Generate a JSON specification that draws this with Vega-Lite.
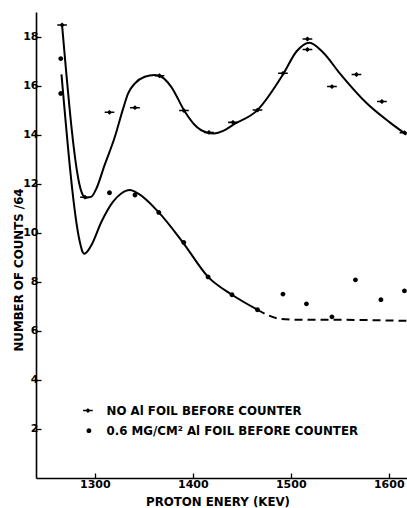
{
  "$schema": "https://vega.github.io/schema/vega-lite/v6.json",
  "width": 371,
  "height": 466,
  "autosize": {"type": "none"},
  "padding": {"left": 36, "top": 12, "right": 0, "bottom": 30},
  "background": "white",
  "config": {
    "view": {"stroke": null},
    "font": "DejaVu Sans",
    "axis": {
      "grid": false,
      "domainColor": "black",
      "domainWidth": 1.6,
      "tickColor": "black",
      "tickWidth": 1.3,
      "tickSize": -5,
      "labelFont": "DejaVu Sans",
      "labelFontWeight": "bold",
      "labelFontSize": 11,
      "labelColor": "black",
      "titleFont": "DejaVu Sans",
      "titleFontWeight": "bold",
      "titleFontSize": 11.8,
      "titleColor": "black"
    }
  },
  "datasets": {
    "curveNo": [
      {"E": 1266.6, "N": 18.47}, {"E": 1286.4, "N": 11.67}, {"E": 1289, "N": 11.47}, {"E": 1291.5, "N": 11.43},
      {"E": 1296.6, "N": 11.47}, {"E": 1301.7, "N": 11.81}, {"E": 1310, "N": 12.76}, {"E": 1320, "N": 13.85},
      {"E": 1329, "N": 15.07}, {"E": 1334, "N": 15.68}, {"E": 1341, "N": 16.09}, {"E": 1351, "N": 16.36},
      {"E": 1361, "N": 16.43}, {"E": 1368, "N": 16.36}, {"E": 1378, "N": 15.95}, {"E": 1392, "N": 14.93},
      {"E": 1402, "N": 14.39}, {"E": 1414, "N": 14.09}, {"E": 1422, "N": 14.05}, {"E": 1431, "N": 14.15},
      {"E": 1441, "N": 14.4}, {"E": 1466, "N": 15.0}, {"E": 1492, "N": 16.45}, {"E": 1506, "N": 17.4},
      {"E": 1519, "N": 17.75}, {"E": 1533, "N": 17.35}, {"E": 1550, "N": 16.5}, {"E": 1577, "N": 15.3},
      {"E": 1601, "N": 14.5}, {"E": 1618, "N": 14.0}
    ],
    "curveFoil": [
      {"E": 1266, "N": 16.46}, {"E": 1284.7, "N": 9.63}, {"E": 1287.5, "N": 9.22}, {"E": 1289.5, "N": 9.14},
      {"E": 1292, "N": 9.22}, {"E": 1296.6, "N": 9.5}, {"E": 1306.8, "N": 10.45}, {"E": 1318.7, "N": 11.27},
      {"E": 1327, "N": 11.6}, {"E": 1335.7, "N": 11.74}, {"E": 1344, "N": 11.6}, {"E": 1364.6, "N": 10.86},
      {"E": 1390, "N": 9.6}, {"E": 1415.6, "N": 8.2}, {"E": 1440, "N": 7.47}, {"E": 1466, "N": 6.86}
    ],
    "curveFoilDash": [
      {"E": 1466, "N": 6.86}, {"E": 1476, "N": 6.65}, {"E": 1489, "N": 6.49}, {"E": 1509, "N": 6.45},
      {"E": 1543, "N": 6.45}, {"E": 1618, "N": 6.41}
    ],
    "points": [
      {"E": 1266.6, "N": 18.47, "series": "no"}, {"E": 1290, "N": 11.45, "series": "no"},
      {"E": 1315, "N": 14.91, "series": "no"}, {"E": 1341, "N": 15.1, "series": "no"},
      {"E": 1366, "N": 16.4, "series": "no"}, {"E": 1391, "N": 14.98, "series": "no"},
      {"E": 1416.5, "N": 14.09, "series": "no"}, {"E": 1441, "N": 14.5, "series": "no"},
      {"E": 1466, "N": 15.0, "series": "no"}, {"E": 1492, "N": 16.5, "series": "no"},
      {"E": 1517, "N": 17.9, "series": "no"}, {"E": 1517, "N": 17.47, "series": "no"},
      {"E": 1542, "N": 15.96, "series": "no"}, {"E": 1567, "N": 16.45, "series": "no"},
      {"E": 1593, "N": 15.35, "series": "no"}, {"E": 1616, "N": 14.08, "series": "no"},
      {"E": 1265.3, "N": 17.1, "series": "foil"}, {"E": 1265.3, "N": 15.68, "series": "foil"},
      {"E": 1315, "N": 11.63, "series": "foil"}, {"E": 1341, "N": 11.54, "series": "foil"},
      {"E": 1365.3, "N": 10.83, "series": "foil"}, {"E": 1390.8, "N": 9.6, "series": "foil"},
      {"E": 1415.6, "N": 8.2, "series": "foil"}, {"E": 1440, "N": 7.47, "series": "foil"},
      {"E": 1466, "N": 6.86, "series": "foil"}, {"E": 1492, "N": 7.5, "series": "foil"},
      {"E": 1516, "N": 7.1, "series": "foil"}, {"E": 1542, "N": 6.57, "series": "foil"},
      {"E": 1566, "N": 8.08, "series": "foil"}, {"E": 1592, "N": 7.27, "series": "foil"},
      {"E": 1616, "N": 7.63, "series": "foil"}
    ],
    "legend": [
      {"E": 1293, "N": 2.75, "TE": 1312, "series": "no", "label": "NO Al FOIL BEFORE COUNTER"},
      {"E": 1294, "N": 1.93, "TE": 1312, "series": "foil", "label": "0.6 MG/CM² Al FOIL BEFORE COUNTER"}
    ]
  },
  "layer": [
    {
      "data": {"name": "curveNo"},
      "mark": {"type": "line", "interpolate": "monotone", "color": "black", "strokeWidth": 2, "clip": true},
      "encoding": {
        "x": {"field": "E", "type": "quantitative",
          "scale": {"domain": [1240, 1618.6], "nice": false, "zero": false},
          "axis": {"values": [1300, 1400, 1500, 1600], "format": "d", "title": "PROTON ENERY (KEV)", "labelPadding": 5,
            "titleX": 181.5, "titleY": 23, "titleBaseline": "middle", "titleAlign": "center"}},
        "y": {"field": "N", "type": "quantitative",
          "scale": {"domain": [0, 19], "nice": false},
          "axis": {"values": [2, 4, 6, 8, 10, 12, 14, 16, 18], "title": "NUMBER OF COUNTS /64", "labelPadding": 3,
            "titleX": -14, "titleY": 257.5, "titleAngle": -90, "titleBaseline": "alphabetic", "titleAlign": "center"}}
      }
    },
    {
      "data": {"name": "curveFoil"},
      "mark": {"type": "line", "interpolate": "monotone", "color": "black", "strokeWidth": 2, "clip": true},
      "encoding": {
        "x": {"field": "E", "type": "quantitative"},
        "y": {"field": "N", "type": "quantitative"}
      }
    },
    {
      "data": {"name": "curveFoilDash"},
      "mark": {"type": "line", "interpolate": "monotone", "color": "black", "strokeWidth": 2, "strokeDash": [8, 5], "clip": true},
      "encoding": {
        "x": {"field": "E", "type": "quantitative"},
        "y": {"field": "N", "type": "quantitative"}
      }
    },
    {
      "data": {"name": "points"},
      "mark": {"type": "point", "filled": true, "opacity": 1, "color": "black", "size": 48, "clip": true},
      "encoding": {
        "x": {"field": "E", "type": "quantitative"},
        "y": {"field": "N", "type": "quantitative"},
        "shape": {"field": "series", "type": "nominal", "legend": null,
          "scale": {"domain": ["no", "foil"], "range": ["M-0.8,0L0,-0.7L0.8,0L0,0.7Z M-1.4,-0.22L1.4,-0.22L1.4,0.22L-1.4,0.22Z", "M-0.7,0A0.7,0.7 0 1,0 0.7,0A0.7,0.7 0 1,0 -0.7,0Z"]}}
      }
    },
    {
      "data": {"name": "legend"},
      "mark": {"type": "point", "filled": true, "opacity": 1, "color": "black", "size": 48},
      "encoding": {
        "x": {"field": "E", "type": "quantitative"},
        "y": {"field": "N", "type": "quantitative"},
        "shape": {"field": "series", "type": "nominal", "legend": null}
      }
    },
    {
      "data": {"name": "legend"},
      "mark": {"type": "text", "align": "left", "baseline": "middle", "font": "DejaVu Sans", "fontWeight": "bold", "fontSize": 11.8, "color": "black"},
      "encoding": {
        "x": {"field": "TE", "type": "quantitative"},
        "y": {"field": "N", "type": "quantitative"},
        "text": {"field": "label"}
      }
    },
    {
      "mark": {"type": "rule", "color": "black", "strokeWidth": 1.6},
      "encoding": {"y": {"datum": 19}}
    }
  ]
}
